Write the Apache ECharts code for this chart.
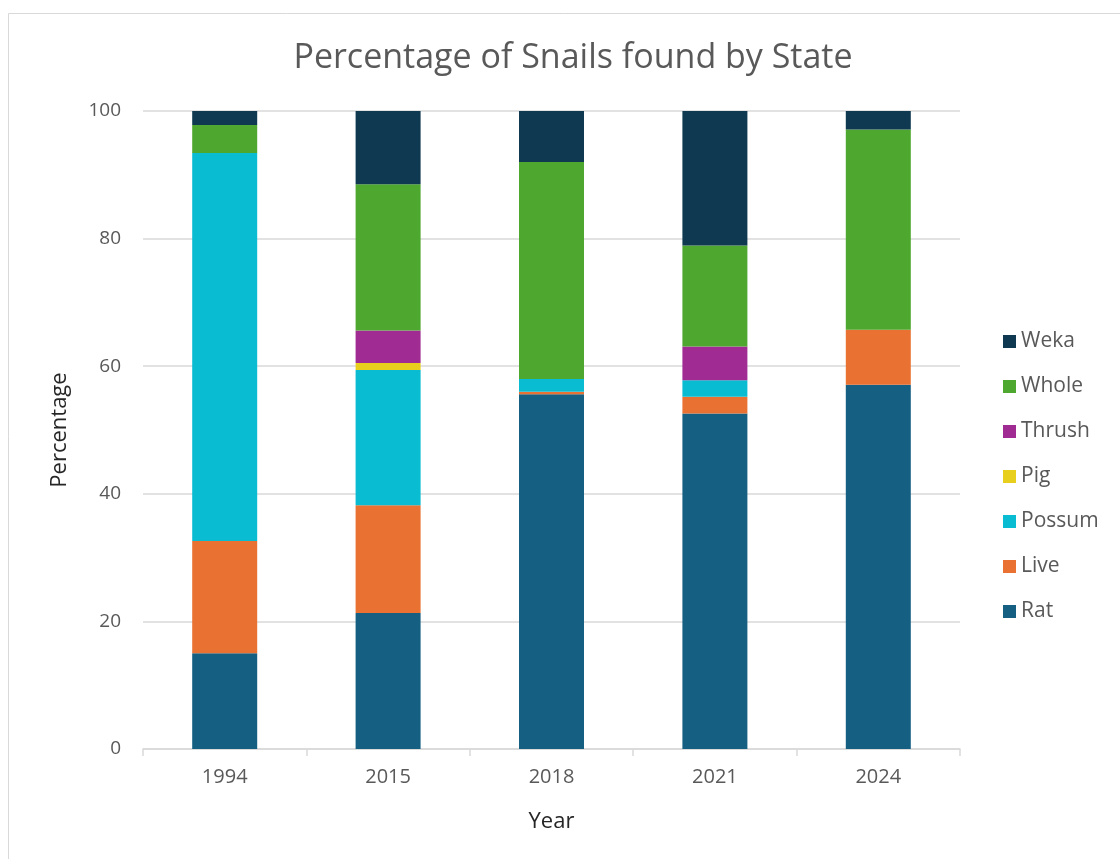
<!DOCTYPE html>
<html>
<head>
<meta charset="utf-8">
<script src="https://cdn.jsdelivr.net/npm/echarts@6/dist/echarts.min.js"></script>
<style>
  html, body { margin: 0; padding: 0; background: #ffffff; }
  #chart { width: 1120px; height: 859px; }
</style>
</head>
<body>
<div id="chart"></div>
<script>
// Survey years and the share (%) of snails in each state
const years = ['1994', '2015', '2018', '2021', '2024'];
const rat    = [15.0, 21.3, 55.6, 52.6, 57.1];
const live   = [17.6, 16.9,  0.4,  2.6,  8.6];
const possum = [60.8, 21.2,  2.0,  2.6,  0.0];
const pig    = [ 0.0,  1.1,  0.0,  0.0,  0.0];
const thrush = [ 0.0,  5.1,  0.0,  5.3,  0.0];
const whole  = [ 4.4, 22.9, 34.0, 15.8, 31.4];
const weka   = [ 2.2, 11.5,  8.0, 21.1,  2.9];
const yTicks = [0, 20, 40, 60, 80, 100];

const font = 'Open Sans, Lato, Noto Sans, sans-serif';
const textColor = '#595959';

const stack = [
  { name: 'Rat',    data: rat,    color: '#156082' },
  { name: 'Live',   data: live,   color: '#E97132' },
  { name: 'Possum', data: possum, color: '#0ABCD2' },
  { name: 'Pig',    data: pig,    color: '#E8CF1E' },
  { name: 'Thrush', data: thrush, color: '#A02B93' },
  { name: 'Whole',  data: whole,  color: '#4EA72E' },
  { name: 'Weka',   data: weka,   color: '#0E3950' }
];

const chart = echarts.init(document.getElementById('chart'), null, { renderer: 'canvas' });

chart.setOption({
  animation: false,
  backgroundColor: '#ffffff',
  graphic: [{
    type: 'rect',
    shape: { x: 8.5, y: 13.5, width: 1200, height: 900 },
    style: { fill: 'none', stroke: '#d9d9d9', lineWidth: 1 },
    silent: true
  }],
  title: {
    text: 'Percentage of Snails found by State',
    left: 568, top: 36,
    textAlign: 'center',
    textStyle: { fontFamily: font, fontSize: 34, fontWeight: 'normal', color: textColor }
  },
  grid: { left: 143, top: 111, width: 817, height: 638, containLabel: false },
  legend: {
    orient: 'vertical',
    left: 998, top: 326,
    itemWidth: 13, itemHeight: 13, itemGap: 24,
    icon: 'rect',
    data: stack.map(s => s.name).reverse(),
    textStyle: { fontFamily: font, fontSize: 21, color: textColor, padding: [0, 0, 0, 0] }
  },
  xAxis: {
    type: 'category',
    data: years,
    name: 'Year',
    nameLocation: 'middle',
    nameGap: 62,
    nameTextStyle: { fontFamily: font, fontSize: 22, color: '#262626' },
    axisLine: { show: true, lineStyle: { color: '#d9d9d9', width: 1.5 } },
    axisTick: { show: true, length: 7, lineStyle: { color: '#d9d9d9', width: 1.5 } },
    axisLabel: { fontFamily: font, fontSize: 20, color: textColor, margin: 18 }
  },
  yAxis: {
    type: 'value',
    min: yTicks[0], max: yTicks[yTicks.length - 1], interval: 20,
    name: 'Percentage',
    nameLocation: 'middle',
    nameGap: 72,
    nameTextStyle: { fontFamily: font, fontSize: 22, color: '#262626' },
    axisLine: { show: false },
    axisTick: { show: false },
    axisLabel: { fontFamily: font, fontSize: 19, color: textColor, margin: 22 },
    splitLine: { lineStyle: { color: '#d9d9d9', width: 1.5 } }
  },
  series: stack.map(s => ({
    name: s.name,
    type: 'bar',
    stack: 'total',
    barWidth: 65,
    data: s.data,
    itemStyle: { color: s.color },
    emphasis: { disabled: true }
  }))
});
</script>
</body>
</html>
